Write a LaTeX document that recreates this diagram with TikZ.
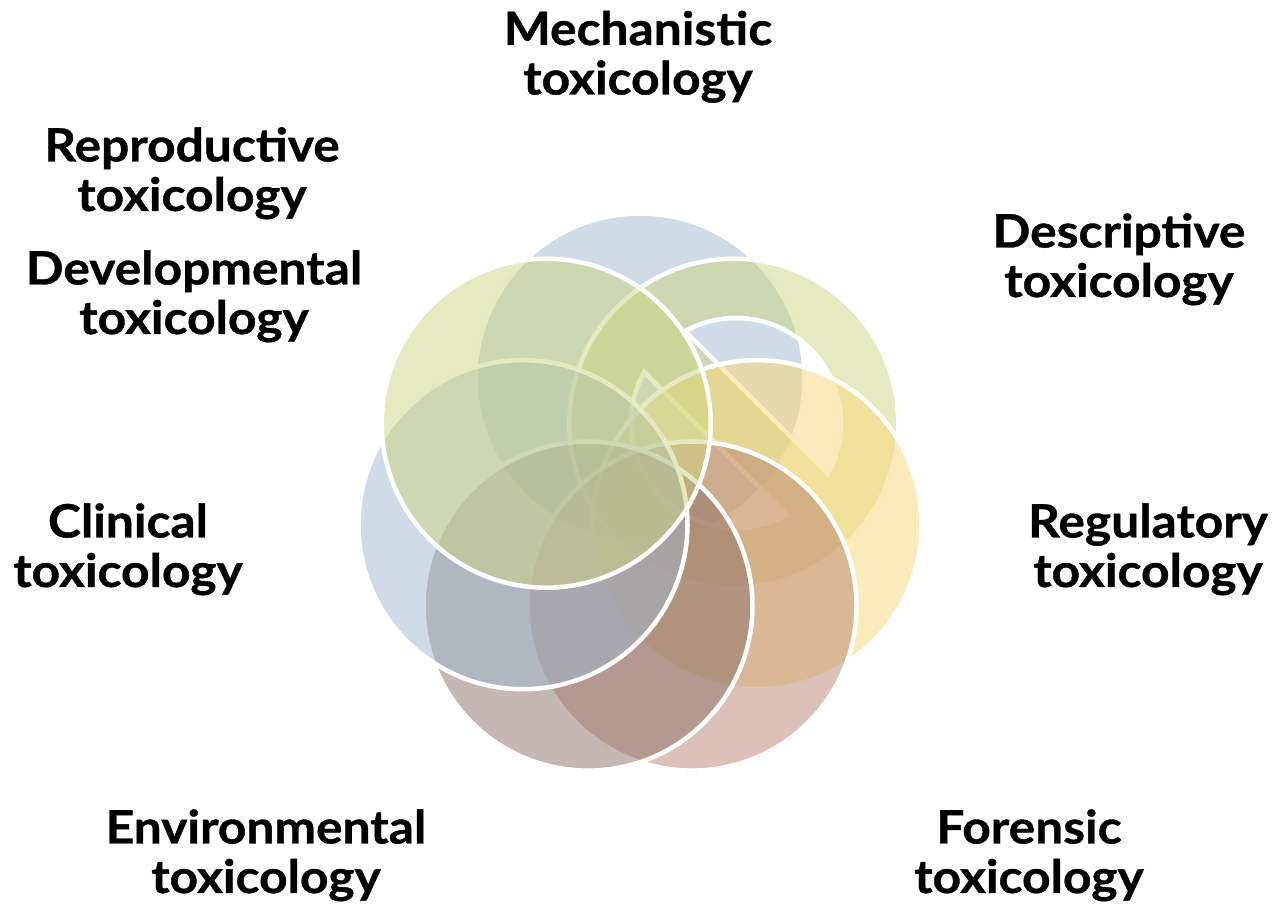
\documentclass[tikz,border=0pt]{standalone}
\usepackage{fontspec}
\setmainfont{Lato}[BoldFeatures={FakeBold=0.8, FakeStretch=1.08}]
\definecolor{vBlue}{RGB}{159,183,205}
\definecolor{vGreen}{RGB}{205,213,129}
\definecolor{vYellow}{RGB}{249,215,117}
\definecolor{vRose}{RGB}{185,131,113}
\definecolor{vBrown}{RGB}{139,113,105}
\tikzset{
  venn/.style={draw=white, line width=4.5pt, fill opacity=0.5, draw opacity=1},
  lbl/.style={anchor=base, align=center, inner sep=0pt,
    font=\bfseries\fontsize{46}{49.5}\selectfont}
}
\begin{document}
\begin{tikzpicture}[x=1pt,y=1pt]
\useasboundingbox (0,0) rectangle (1285,904);
% circle centres on a ring of seven
\coordinate (c1) at (640,526);
\coordinate (c2) at (733.8,480.8);
\coordinate (c3) at (757.0,379.3);
\coordinate (c4) at (692.0,297.9);
\coordinate (c5) at (588.0,297.9);
\coordinate (c6) at (523.0,379.3);
\coordinate (c7) at (546.2,480.8);
\coordinate (h2) at (736,481);
\def\R{164.5}
% circles, later ones on top
\path[venn, fill=vBlue] (c1) circle[radius=\R];
\path[venn, fill=vGreen, even odd rule] (c2) circle[radius=\R]
  (h2) ++(-29:105) arc[start angle=-29, end angle=119, radius=105] -- cycle
  (h2) ++(151:105) arc[start angle=151, end angle=299, radius=105] -- cycle;
\path[venn, fill=vYellow] (c3) circle[radius=\R];
\path[venn, fill=vRose] (c4) circle[radius=\R];
\path[venn, fill=vBrown] (c5) circle[radius=\R];
\path[venn, fill=vBlue] (c6) circle[radius=\R];
\path[venn, fill=vGreen] (c7) circle[radius=\R];
% labels (anchored at the baseline of the second line)
\node[lbl] (mech) at (638,809.5) {Mechanistic\\toxicology};
\node[lbl] (desc) at (1119,607) {Descriptive\\toxicology};
\node[lbl] (regu) at (1148,317) {Regulatory\\toxicology};
\node[lbl] (fore) at (1029,11) {Forensic\\toxicology};
\node[lbl] (envi) at (266,11) {Environmental\\toxicology};
\node[lbl] (clin) at (128,317) {Clinical\\toxicology};
\node[lbl] (repr) at (192,693) {Reproductive\\toxicology};
\node[lbl] (deve) at (194,570) {Developmental\\toxicology};
\end{tikzpicture}
\end{document}
